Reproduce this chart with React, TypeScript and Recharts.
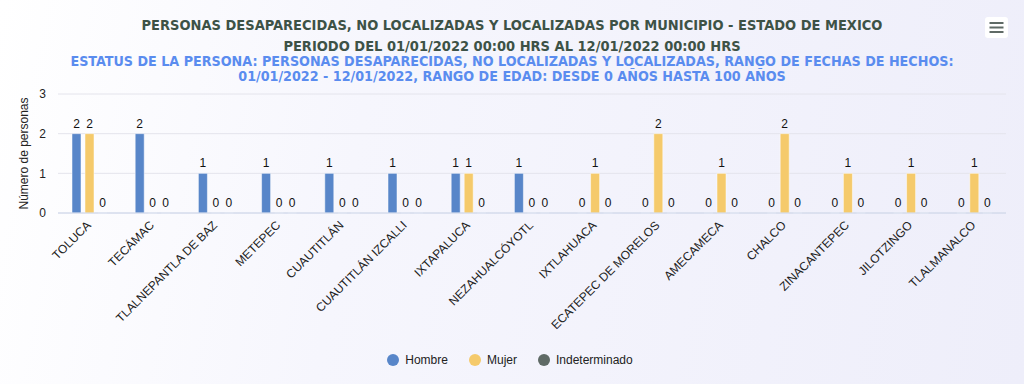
import React from "react";
import { BarChart, Bar, XAxis, YAxis, CartesianGrid, Legend, LabelList } from "recharts";

const categories = [
  "TOLUCA", "TECÁMAC", "TLALNEPANTLA DE BAZ", "METEPEC", "CUAUTITLÁN",
  "CUAUTITLÁN IZCALLI", "IXTAPALUCA", "NEZAHUALCÓYOTL", "IXTLAHUACA",
  "ECATEPEC DE MORELOS", "AMECAMECA", "CHALCO", "ZINACANTEPEC", "JILOTZINGO", "TLALMANALCO",
];
const hombre = [2, 2, 1, 1, 1, 1, 1, 1, 0, 0, 0, 0, 0, 0, 0];
const mujer = [2, 0, 0, 0, 0, 0, 1, 0, 1, 2, 1, 2, 1, 1, 1];
const indeterminado = [0, 0, 0, 0, 0, 0, 0, 0, 0, 0, 0, 0, 0, 0, 0];
const yTicks = [0, 1, 2, 3];
const seriesNames = ["Hombre", "Mujer", "Indeterminado"];
const colors = ["#5886c9", "#f5ca6b", "#5f6a66"];

const titleLines = [
  "PERSONAS DESAPARECIDAS, NO LOCALIZADAS Y LOCALIZADAS POR MUNICIPIO - ESTADO DE MEXICO",
  "PERIODO DEL 01/01/2022 00:00 HRS AL 12/01/2022 00:00 HRS",
];
const subtitleLines = [
  "ESTATUS DE LA PERSONA: PERSONAS DESAPARECIDAS, NO LOCALIZADAS Y LOCALIZADAS, RANGO DE FECHAS DE HECHOS:",
  "01/01/2022 - 12/01/2022, RANGO DE EDAD: DESDE 0 AÑOS HASTA 100 AÑOS",
];

const data = categories.map((c, i) => ({
  name: c,
  Hombre: hombre[i],
  Mujer: mujer[i],
  Indeterminado: indeterminado[i],
}));

const FONT = "'Liberation Sans', Arial, sans-serif";
const TITLE_FONT = "'DejaVu Sans Condensed', 'DejaVu Sans', sans-serif";

const XTick = (props: any) => {
  const { x, y, payload } = props;
  return (
    <g transform={`translate(${x - 1},${y + 2})`}>
      <text
        transform="rotate(-45)"
        textAnchor="end"
        dy="0.35em"
        fontSize={12}
        fontFamily={FONT}
        fill="#222"
      >
        {payload.value}
      </text>
    </g>
  );
};

const renderLegend = () => {
  return (
    <div
      style={{
        display: "flex",
        justifyContent: "center",
        paddingLeft: 14,
        fontFamily: FONT,
        fontSize: 12,
        color: "#222",
      }}
    >
      {seriesNames.map((name, i) => (
        <div key={name} style={{ display: "flex", alignItems: "center", marginLeft: i === 0 ? 0 : 21 }}>
          <span
            style={{
              width: 12,
              height: 12,
              borderRadius: "50%",
              background: colors[i],
              display: "inline-block",
              marginRight: 6,
            }}
          />
          <span>{name}</span>
        </div>
      ))}
    </div>
  );
};

export default function App() {
  return (
    <div
      style={{
        position: "fixed",
        left: 0,
        top: 0,
        width: 1024,
        height: 384,
        background: "linear-gradient(100deg, #ffffff 0%, #f6f6fd 35%, #eeeefa 100%)",
        overflow: "hidden",
      }}
    >
      <div
        style={{
          position: "absolute",
          left: 0,
          top: 15,
          width: 1024,
          textAlign: "center",
          fontFamily: TITLE_FONT,
          fontWeight: "bold",
          fontSize: 14.5,
          color: "#3d5246",
          lineHeight: "21px",
        }}
      >
        {titleLines.map((t, i) => (
          <div key={i}>{t}</div>
        ))}
      </div>
      <div
        style={{
          position: "absolute",
          left: 0,
          top: 54,
          width: 1024,
          textAlign: "center",
          fontFamily: TITLE_FONT,
          fontWeight: "bold",
          fontSize: 14.2,
          color: "#5a8cef",
          lineHeight: "15px",
        }}
      >
        {subtitleLines.map((t, i) => (
          <div key={i}>{t}</div>
        ))}
      </div>
      <svg style={{ position: "absolute", left: 985, top: 17 }} width={23} height={21}>
        <rect x={0} y={0} width={23} height={21} rx={3} fill="#ffffff" />
        {[6, 10.5, 15].map((yy, i) => (
          <line key={i} x1={4.5} x2={18.5} y1={yy} y2={yy} stroke="#5f6a66" strokeWidth={2} />
        ))}
      </svg>
      <div style={{ position: "absolute", left: 0, top: 0 }}>
        <BarChart
          width={1024}
          height={384}
          data={data}
          margin={{ top: 94, right: 18, bottom: 37, left: 0 }}
          barSize={9}
          barGap={4}
        >
          <CartesianGrid vertical={false} stroke="#e4e4ec" />
          <XAxis
            dataKey="name"
            interval={0}
            height={120}
            tick={<XTick />}
            tickLine={false}
            axisLine={{ stroke: "#ccd6eb" }}
          />
          <YAxis
            width={58}
            domain={[0, 3]}
            ticks={yTicks}
            tickLine={false}
            axisLine={false}
            tick={{ fontSize: 12, fontFamily: FONT, fill: "#222", dx: -4 }}
            label={{
              value: "Número de personas",
              angle: -90,
              position: "insideLeft",
              offset: 24,
              style: { textAnchor: "middle", fontSize: 12, fontFamily: FONT, fill: "#222" },
            }}
          />
          <Legend content={renderLegend} wrapperStyle={{ top: 353 }} />
          {seriesNames.map((s, i) => (
            <Bar
              key={s}
              dataKey={s}
              name={s}
              fill={colors[i]}
              stroke="#ffffff"
              strokeWidth={0.5}
              minPointSize={0.01}
              isAnimationActive={false}
            >
              <LabelList dataKey={s} position="top" offset={6} fontSize={12} fontFamily={FONT} fill="#111" />
            </Bar>
          ))}
        </BarChart>
      </div>
    </div>
  );
}
